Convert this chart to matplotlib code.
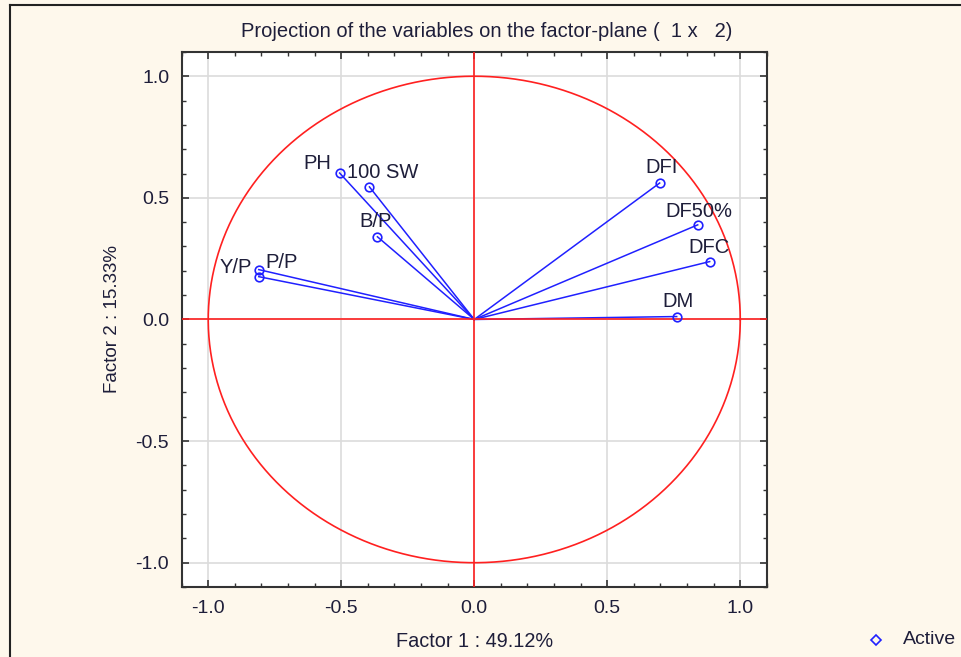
import numpy as np
import matplotlib
matplotlib.use("Agg")
import matplotlib.pyplot as plt
from matplotlib.lines import Line2D
from matplotlib.ticker import MultipleLocator

variables = ["PH", "100 SW", "B/P", "Y/P", "P/P", "DFI", "DF50%", "DFC", "DM"]
factor1 = [-0.506, -0.394, -0.364, -0.810, -0.810, 0.697, 0.840, 0.885, 0.761]
factor2 = [0.602, 0.545, 0.340, 0.205, 0.176, 0.561, 0.389, 0.238, 0.012]

title = "Projection of the variables on the factor-plane (  1 x   2)"
xlabel = "Factor 1 : 49.12%"
ylabel = "Factor 2 : 15.33%"
legend_label = "Active"

# label offsets in pixels (dx, dy, ha)
offsets = {
    "PH": (-8, 4, "right"),
    "100 SW": (-22, 9, "left"),
    "B/P": (-18, 10, "left"),
    "Y/P": (-7, -3, "right"),
    "P/P": (7, 9, "left"),
    "DFI": (-14, 10, "left"),
    "DF50%": (-32, 8, "left"),
    "DFC": (-21, 9, "left"),
    "DM": (-14, 10, "left"),
}

plt.rcParams['font.family'] = ['Liberation Sans', 'DejaVu Sans']
txt = '#1e1e3a'
bg = '#fef8ec'
blue = '#2020ff'
red = '#ff2020'

fig = plt.figure(figsize=(9.61, 6.57), dpi=100, facecolor=bg)
ax = fig.add_axes([0.189, 0.1065, 0.609, 0.8145])
ax.set_facecolor('white')
ax.set_xlim(-1.1, 1.1)
ax.set_ylim(-1.1, 1.1)

ax.xaxis.set_major_locator(MultipleLocator(0.5))
ax.yaxis.set_major_locator(MultipleLocator(0.5))
ax.xaxis.set_minor_locator(MultipleLocator(0.1))
ax.yaxis.set_minor_locator(MultipleLocator(0.1))
ax.grid(True, which='major', color='#dcdcdc', lw=1.2, zorder=0)
ax.set_axisbelow(True)
ax.tick_params(which='both', direction='in', top=True, right=True, color='#333333')
ax.tick_params(which='major', length=5, width=1.2, labelsize=14, labelcolor=txt)
ax.tick_params(which='minor', length=3, width=1.0)
ax.tick_params(axis='x', which='major', pad=9)
ax.tick_params(axis='y', which='major', pad=9)
ax.xaxis.set_major_formatter(matplotlib.ticker.FormatStrFormatter('%.1f'))
ax.yaxis.set_major_formatter(matplotlib.ticker.FormatStrFormatter('%.1f'))
for s in ax.spines.values():
    s.set_color('#333333')
    s.set_linewidth(1.5)

for name, x, y in zip(variables, factor1, factor2):
    ax.plot([0, x], [0, y], color=blue, lw=1.1, zorder=2)

theta = np.linspace(0, 2 * np.pi, 400)
ax.plot(np.cos(theta), np.sin(theta), color=red, lw=1.2, zorder=3)
ax.axhline(0, color=red, lw=1.2, zorder=3)
ax.axvline(0, color=red, lw=1.2, zorder=3)

ax.plot(factor1, factor2, ls='none', marker='o', ms=6.2, mfc='none',
        mec=blue, mew=1.2, zorder=4)

for name, x, y in zip(variables, factor1, factor2):
    dx, dy, ha = offsets[name]
    ax.annotate(name, (x, y), xytext=(dx, dy), textcoords='offset pixels',
                ha=ha, va='baseline', fontsize=14.5, color=txt, zorder=5)

ax.set_title(title, fontsize=14.5, color=txt, pad=11, x=0.522)
ax.set_xlabel(xlabel, fontsize=14.3, color=txt)
ax.set_ylabel(ylabel, fontsize=13.5, color=txt)
ax.xaxis.set_label_coords(0.5, -0.084)
ax.yaxis.set_label_coords(-0.104, 0.5)

# figure frame lines (left and top)
fig.add_artist(Line2D([10 / 961, 10 / 961], [0, 1 - 5 / 657], transform=fig.transFigure,
                      color='#222222', lw=1.5))
fig.add_artist(Line2D([10 / 961, 1], [1 - 5 / 657, 1 - 5 / 657], transform=fig.transFigure,
                      color='#222222', lw=1.5))

# legend entry
fig.add_artist(Line2D([876 / 961], [1 - 640 / 657], transform=fig.transFigure, ls='none',
                      marker='D', ms=5, mfc='none', mec=blue, mew=1.2))
fig.text(903 / 961, 1 - 640 / 657, legend_label, fontsize=14, color=txt,
         ha='left', va='center')

fig.savefig('out.png', dpi=100, facecolor=bg)
